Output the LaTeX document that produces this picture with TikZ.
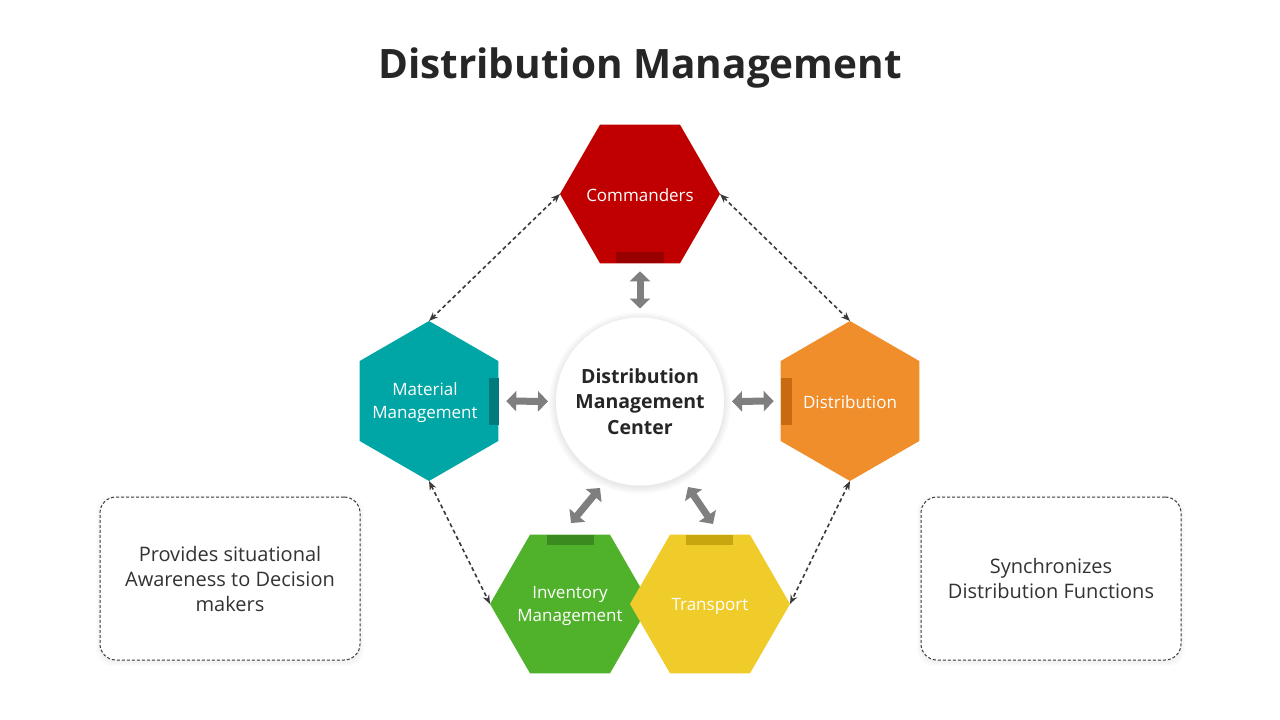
\documentclass[tikz,border=0pt]{standalone}
\usepackage{fontspec}
\setmainfont{Open Sans}
\usetikzlibrary{shapes.geometric,arrows.meta}
\definecolor{cred}{HTML}{C00000}
\definecolor{credd}{HTML}{980000}
\definecolor{cteal}{HTML}{00A6A6}
\definecolor{cteald}{HTML}{007A7A}
\definecolor{corange}{HTML}{F08E2C}
\definecolor{coranged}{HTML}{C96A10}
\definecolor{cgreen}{HTML}{50B22A}
\definecolor{cgreend}{HTML}{3A8A20}
\definecolor{cyellow}{HTML}{F0CC2A}
\definecolor{cyellowd}{HTML}{C8A610}
\definecolor{ctitle}{HTML}{262626}
\definecolor{ctext}{HTML}{333333}
\definecolor{cdash}{HTML}{3A3A3A}
\definecolor{cblock}{HTML}{7F7F7F}
\begin{document}
\begin{tikzpicture}[x=1pt,y=-1pt,
  hexa/.style={regular polygon, regular polygon sides=6, minimum size=160pt,
    inner sep=0pt, outer sep=0pt},
  pointy/.style={shape border rotate=30},
  hextext/.style={text=white, align=center, inner sep=0pt, yshift=-2pt,
    font=\fontsize{17}{23}\selectfont},
  blockarrow/.style={draw=cblock, line width=7pt,
    {Triangle[width=20pt,length=10pt]}-{Triangle[width=20pt,length=10pt]}},
  dasharrow/.style={draw=cdash, line width=1.6pt, dash pattern=on 4pt off 3pt,
    {Stealth[length=9pt,width=7pt]}-{Stealth[length=9pt,width=7pt]}},
  notebox/.style={draw=cdash, line width=1pt, dash pattern=on 3pt off 2pt,
    rounded corners=16pt, minimum width=260pt, minimum height=163pt,
    align=center, text=ctext, font=\fontsize{20}{25}\selectfont}
]
\useasboundingbox[fill=white] (0,0) rectangle (1280,720);

% title
\node[text=ctitle, font=\fontsize{40.5}{48}\bfseries\selectfont] (title) at (640,68) {Distribution Management};

% center circle with soft shadow
\foreach \k in {1,...,7}{
  \fill[black, opacity=0.012] (640,403) circle ({84+\k});
}
\node[circle, fill=white, minimum size=168pt, inner sep=0pt, outer sep=0pt,
  align=center, text=ctitle, font=\fontsize{19.5}{25.5}\bfseries\selectfont] (dmc) at (640,401.5)
  {Distribution\\Management\\Center};

% hexagons
\node[hexa, fill=cred] (cmd) at (640,194) {};
\node[hextext, yshift=1pt] (cmdT) at (cmd.center) {Commanders};
\fill[credd] (cmd.south) ++(-24,0) rectangle ++(48,-11);

\node[hexa, pointy, fill=cteal] (mat) at (429,401) {};
\node[hextext] (matT) at (425,401) {Material\\Management};
\fill[cteald] (mat.center) ++(60,-23) rectangle ++(10,47);

\node[hexa, pointy, fill=corange] (dis) at (850,401) {};
\node[hextext, yshift=1pt] (disT) at (dis.center) {Distribution};
\fill[coranged] (dis.center) ++(-69,-23) rectangle ++(11,47);

\node[hexa, fill=cgreen] (inv) at (570,604) {};
\node[hextext] (invT) at (inv.center) {Inventory\\Management};
\fill[cgreend] (inv.center) ++(-23,-69) rectangle ++(47,10);

\node[hexa, fill=cyellow] (tra) at (710,604) {};
\node[hextext] (traT) at (tra.center) {Transport};
\fill[cyellowd] (tra.center) ++(-24,-69) rectangle ++(47,10);

% block arrows
\draw[blockarrow, shorten <=8pt, shorten >=9pt] (cmd.south) -- (dmc.north);
\draw[blockarrow, shorten <=8pt, shorten >=8pt] (mat.east) -- (dmc.west);
\draw[blockarrow, shorten <=8pt, shorten >=7pt] (dmc.east) -- (dis.west);
\coordinate (i1) at (600,488);
\coordinate (i2) at (571,523);
\coordinate (t1) at (688,487);
\coordinate (t2) at (713,524);
\draw[blockarrow] (i1) -- (i2);
\draw[blockarrow] (t1) -- (t2);

% dashed arrows
\draw[dasharrow] (cmd.west) -- (mat.north);
\draw[dasharrow] (cmd.east) -- (dis.north);
\draw[dasharrow] (mat.south) -- (inv.west);
\draw[dasharrow] (dis.south) -- (tra.east);

% note boxes with faint shadows
\foreach \k in {1,...,4}{
  \fill[black, opacity=0.012, rounded corners=16pt] (100-\k,497-\k+2) rectangle (360+\k,660+\k+2);
  \fill[black, opacity=0.012, rounded corners=16pt] (921-\k,497-\k+2) rectangle (1181+\k,660+\k+2);
}
\node[notebox, fill=white] (box1) at (230,578.5) {Provides situational\\Awareness to Decision\\makers};
\node[notebox, fill=white] (box2) at (1051,578.5) {Synchronizes\\Distribution Functions};
\end{tikzpicture}
\end{document}
